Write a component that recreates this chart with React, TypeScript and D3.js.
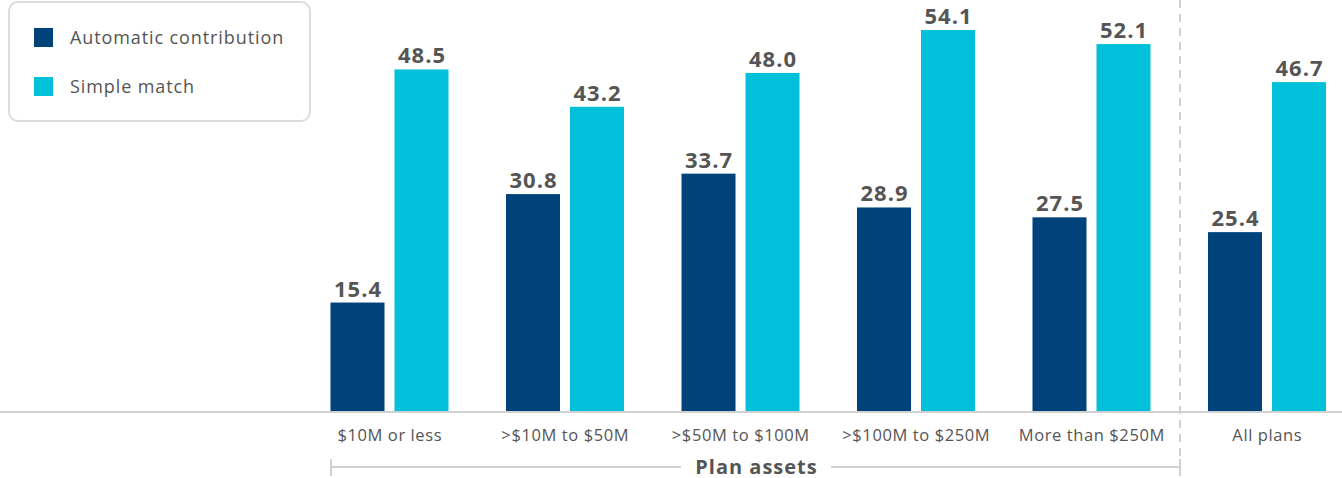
import React from "react";
import * as d3 from "d3";

const categories = ["$10M or less", ">$10M to $50M", ">$50M to $100M", ">$100M to $250M", "More than $250M", "All plans"];
const automatic = [15.4, 30.8, 33.7, 28.9, 27.5, 25.4];
const simpleMatch = [48.5, 43.2, 48.0, 54.1, 52.1, 46.7];
const seriesNames = ["Automatic contribution", "Simple match"];
const colors = ["#00427a", "#00c1d9"];
const bracketLabel = "Plan assets";

const W = 1342;
const H = 478;
const FONT = "'Open Sans', 'DejaVu Sans', sans-serif";

export default function App() {
  React.useEffect(() => {
    document.body.style.margin = "0";
  }, []);
  const baseline = 411;
  const x = d3.scalePoint<string>().domain(categories).range([389.5, 1267]);
  const y = d3.scaleLinear().domain([0, 54.1]).range([baseline, 30]);
  const barW = 54;
  const gap = 10;
  const series = [automatic, simpleMatch];
  const dashX = 1180;
  const bx0 = 331;
  const by = 467;
  const labelCx = 756;

  return (
    <svg width={W} height={H} style={{ display: "block", fontFamily: FONT }}>
      <rect width={W} height={H} fill="#fff" />
      {/* dashed separator */}
      <line x1={dashX} x2={dashX} y1={0} y2={460} stroke="#d0d0d0" strokeWidth={2} strokeDasharray="8,6" />
      {/* bars */}
      {series.map((vals, si) =>
        vals.map((v, i) => {
          const cx = x(categories[i])!;
          const bx = si === 0 ? cx - gap / 2 - barW : cx + gap / 2;
          return (
            <g key={`${si}-${i}`}>
              <rect x={bx} y={y(v)} width={barW} height={baseline - y(v)} fill={colors[si]} />
              <text x={bx + barW / 2 + 0.5} y={y(v) - 6} textAnchor="middle" fontSize={22} fontWeight={700} letterSpacing={1} fill="#555">
                {v.toFixed(1)}
              </text>
            </g>
          );
        })
      )}
      {/* baseline */}
      <line x1={0} x2={W} y1={baseline + 1} y2={baseline + 1} stroke="#d0d0d0" strokeWidth={2} />
      {/* category labels */}
      {categories.map((c) => (
        <text key={c} x={x(c)! + 0.3} y={441} textAnchor="middle" fontSize={16.5} letterSpacing={0.6} fill="#555">
          {c}
        </text>
      ))}
      {/* bracket */}
      <line x1={bx0} x2={dashX} y1={by} y2={by} stroke="#d0d0d0" strokeWidth={2} />
      <line x1={bx0} x2={bx0} y1={459} y2={476} stroke="#d0d0d0" strokeWidth={2} />
      <line x1={dashX} x2={dashX} y1={459} y2={476} stroke="#d0d0d0" strokeWidth={2} />
      <rect x={labelCx - 75} y={455} width={150} height={23} fill="#fff" />
      <text x={labelCx + 0.5} y={473.5} textAnchor="middle" fontSize={20} fontWeight={700} letterSpacing={1} fill="#555">
        {bracketLabel}
      </text>
      {/* legend */}
      <rect x={9} y={2} width={301} height={119} rx={9} fill="#fff" stroke="#dcdcdc" strokeWidth={2} />
      {seriesNames.map((n, i) => (
        <g key={n} transform={`translate(34, ${28 + i * 49})`}>
          <rect width={19} height={19} fill={colors[i]} />
          <text x={36} y={16} fontSize={18} letterSpacing={0.9} fill="#555">
            {n}
          </text>
        </g>
      ))}
    </svg>
  );
}
